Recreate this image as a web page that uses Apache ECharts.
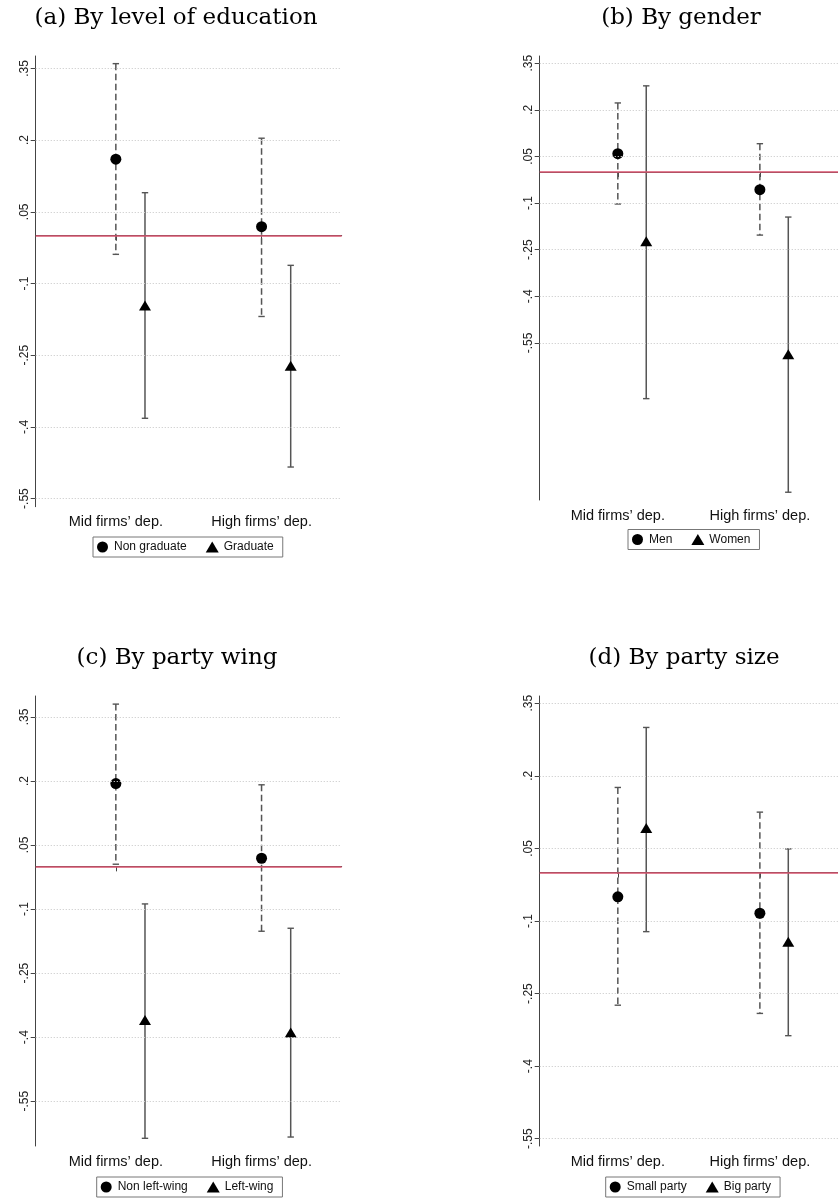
<!DOCTYPE html>
<html>
<head>
<meta charset="utf-8">
<script src="https://cdn.jsdelivr.net/npm/echarts@6/dist/echarts.min.js"></script>
<style>
  html, body { margin: 0; padding: 0; background: #fff; overflow: hidden; }
  #chart { width: 838px; height: 1201px; }
</style>
</head>
<body>
<div id="chart"></div>
<script>
// Categories on the x axis and their positions on the numeric x scale
const categories = ['Mid firms\u2019 dep.', 'High firms\u2019 dep.'];
const categoryX = [1, 2];
const secondSeriesShift = 0.2;

// Y tick values and their Stata-style labels
const yTickValues = [0.35, 0.2, 0.05, -0.1, -0.25, -0.4, -0.55];
const yTickLabels = ['.35', '.2', '.05', '-.1', '-.25', '-.4', '-.55'];

// (a) By level of education
const nonGraduateEst = [0.160, 0.019];
const nonGraduateLow = [-0.039, -0.169];
const nonGraduateHigh = [0.360, 0.204];
const graduateEst = [-0.146, -0.272];
const graduateLow = [-0.382, -0.484];
const graduateHigh = [0.090, -0.062];

// (b) By gender
const menEst = [0.059, -0.057];
const menLow = [-0.103, -0.203];
const menHigh = [0.222, 0.091];
const womenEst = [-0.223, -0.586];
const womenLow = [-0.729, -1.030];
const womenHigh = [0.277, -0.145];

// (c) By party wing
const nonLeftEst = [0.194, 0.019];
const nonLeftLow = [0.005, -0.152];
const nonLeftHigh = [0.380, 0.191];
const leftEst = [-0.360, -0.389];
const leftLow = [-0.637, -0.634];
const leftHigh = [-0.088, -0.145];

// (d) By party size
const smallPartyEst = [-0.050, -0.084];
const smallPartyLow = [-0.274, -0.291];
const smallPartyHigh = [0.176, 0.125];
const bigPartyEst = [0.092, -0.143];
const bigPartyLow = [-0.122, -0.337];
const bigPartyHigh = [0.300, 0.049];

const panelTitles = ['(a) By level of education', '(b) By gender', '(c) By party wing', '(d) By party size'];

const panels = [
  { title: panelTitles[0], names: ['Non graduate', 'Graduate'],
    groups: [[nonGraduateEst, nonGraduateLow, nonGraduateHigh], [graduateEst, graduateLow, graduateHigh]],
    grid: { left: 35.7, top: 56, width: 306, height: 450.7 }, yRange: [-0.567, 0.376],
    titlePos: [176, 18.5], legendPos: [93, 537] },
  { title: panelTitles[1], names: ['Men', 'Women'],
    groups: [[menEst, menLow, menHigh], [womenEst, womenLow, womenHigh]],
    grid: { left: 539.7, top: 56, width: 306, height: 444 }, yRange: [-1.055, 0.373],
    titlePos: [681, 18.5], legendPos: [628, 529.5] },
  { title: panelTitles[2], names: ['Non left-wing', 'Left-wing'],
    groups: [[nonLeftEst, nonLeftLow, nonLeftHigh], [leftEst, leftLow, leftHigh]],
    grid: { left: 35.7, top: 696, width: 306, height: 450 }, yRange: [-0.655, 0.399],
    titlePos: [177, 658.5], legendPos: [96.7, 1177] },
  { title: panelTitles[3], names: ['Small party', 'Big party'],
    groups: [[smallPartyEst, smallPartyLow, smallPartyHigh], [bigPartyEst, bigPartyLow, bigPartyHigh]],
    grid: { left: 539.7, top: 696, width: 306, height: 450 }, yRange: [-0.565, 0.365],
    titlePos: [684, 658.5], legendPos: [605.7, 1177] }
];

const sansFont = '"Liberation Sans", Arial, sans-serif';
const barColor = '#555';

// Vertical confidence interval with small caps at both ends
function errorBarRenderer(dashed) {
  return function (params, api) {
    const x = api.value(0);
    const top = api.coord([x, api.value(2)]);
    const bottom = api.coord([x, api.value(1)]);
    const cap = 3.2;
    const style = { stroke: barColor, lineWidth: 1.5, lineDash: dashed ? [6.5, 3.5] : null };
    const capStyle = { stroke: barColor, lineWidth: 1.4 };
    return {
      type: 'group',
      children: [
        { type: 'line', shape: { x1: top[0], y1: top[1], x2: bottom[0], y2: bottom[1] }, style: style },
        { type: 'line', shape: { x1: top[0] - cap, y1: top[1], x2: top[0] + cap, y2: top[1] }, style: capStyle },
        { type: 'line', shape: { x1: bottom[0] - cap, y1: bottom[1], x2: bottom[0] + cap, y2: bottom[1] }, style: capStyle }
      ]
    };
  };
}

const grids = [], xAxes = [], yAxes = [], series = [], legends = [], graphics = [];

panels.forEach((p, i) => {
  grids.push(Object.assign({ containLabel: false }, p.grid));

  xAxes.push({
    gridIndex: i, type: 'value', min: 0.45, max: 2.55,
    axisLine: { show: true, lineStyle: { color: '#444', width: 1 } },
    axisTick: { show: true, length: 5, lineStyle: { color: '#444' }, customValues: categoryX },
    axisLabel: {
      show: true, customValues: categoryX, margin: 8,
      fontFamily: sansFont, fontSize: 14.5, color: '#111',
      formatter: v => categories[categoryX.indexOf(v)] || ''
    },
    splitLine: { show: false }
  });

  yAxes.push({
    gridIndex: i, type: 'value', min: p.yRange[0], max: p.yRange[1],
    axisLine: { show: true, lineStyle: { color: '#444', width: 1 } },
    axisTick: { show: true, length: 5, lineStyle: { color: '#444' }, customValues: yTickValues },
    axisLabel: {
      show: true, customValues: yTickValues, rotate: 90, margin: 5,
      fontFamily: sansFont, fontSize: 12, color: '#222',
      formatter: v => yTickLabels[yTickValues.indexOf(v)] || ''
    },
    splitLine: { show: false }
  });

  // Reference lines: dotted grid at the tick values and the zero line
  series.push({
    type: 'line', xAxisIndex: i, yAxisIndex: i, data: [], silent: true, z: 1,
    markLine: {
      silent: true, symbol: ['none', 'none'], animation: false,
      label: { show: false },
      data: yTickValues.map(v => ({ yAxis: v, lineStyle: { color: '#cfcfcf', width: 1, type: [1.2, 1.8] } }))
        .concat([{ yAxis: 0, lineStyle: { color: '#d8546f', width: 1.6, type: 'solid' } }])
    }
  });

  p.groups.forEach((g, k) => {
    const [est, low, high] = g;
    const xs = categoryX.map(x => x + k * secondSeriesShift);
    series.push({
      type: 'custom', xAxisIndex: i, yAxisIndex: i, z: 2, silent: true,
      renderItem: errorBarRenderer(k === 0),
      data: xs.map((x, j) => [x, low[j], high[j]]),
      encode: { x: 0, y: [1, 2] }
    });
  });

  p.groups.forEach((g, k) => {
    const est = g[0];
    const xs = categoryX.map(x => x + k * secondSeriesShift);
    series.push({
      name: p.names[k], type: 'scatter', xAxisIndex: i, yAxisIndex: i, z: 3,
      symbol: k === 0 ? 'circle' : 'triangle',
      symbolSize: k === 0 ? 11 : [12, 10],
      itemStyle: { color: '#000', opacity: 1 },
      data: xs.map((x, j) => [x, est[j]])
    });
  });

  legends.push({
    left: p.legendPos[0], top: p.legendPos[1], orient: 'horizontal',
    selectedMode: false,
    data: [{ name: p.names[0], icon: 'circle' }, { name: p.names[1], icon: 'triangle' }],
    itemWidth: 13, itemHeight: 11, itemGap: 19,
    padding: [4, 9, 4, 4],
    borderColor: '#777', borderWidth: 1, borderRadius: 0,
    itemStyle: { color: '#000', opacity: 1 },
    textStyle: { fontFamily: sansFont, fontSize: 12, color: '#111' }
  });

  graphics.push({
    type: 'text', x: p.titlePos[0], y: p.titlePos[1],
    style: {
      text: p.title, fill: '#000', font: '23px "DejaVu Serif", serif',
      textAlign: 'center', textVerticalAlign: 'middle'
    }
  });
});

const chart = echarts.init(document.getElementById('chart'), null, { renderer: 'canvas' });
chart.setOption({
  backgroundColor: '#fff',
  animation: false,
  grid: grids,
  xAxis: xAxes,
  yAxis: yAxes,
  legend: legends,
  graphic: graphics,
  series: series
});
</script>
</body>
</html>
